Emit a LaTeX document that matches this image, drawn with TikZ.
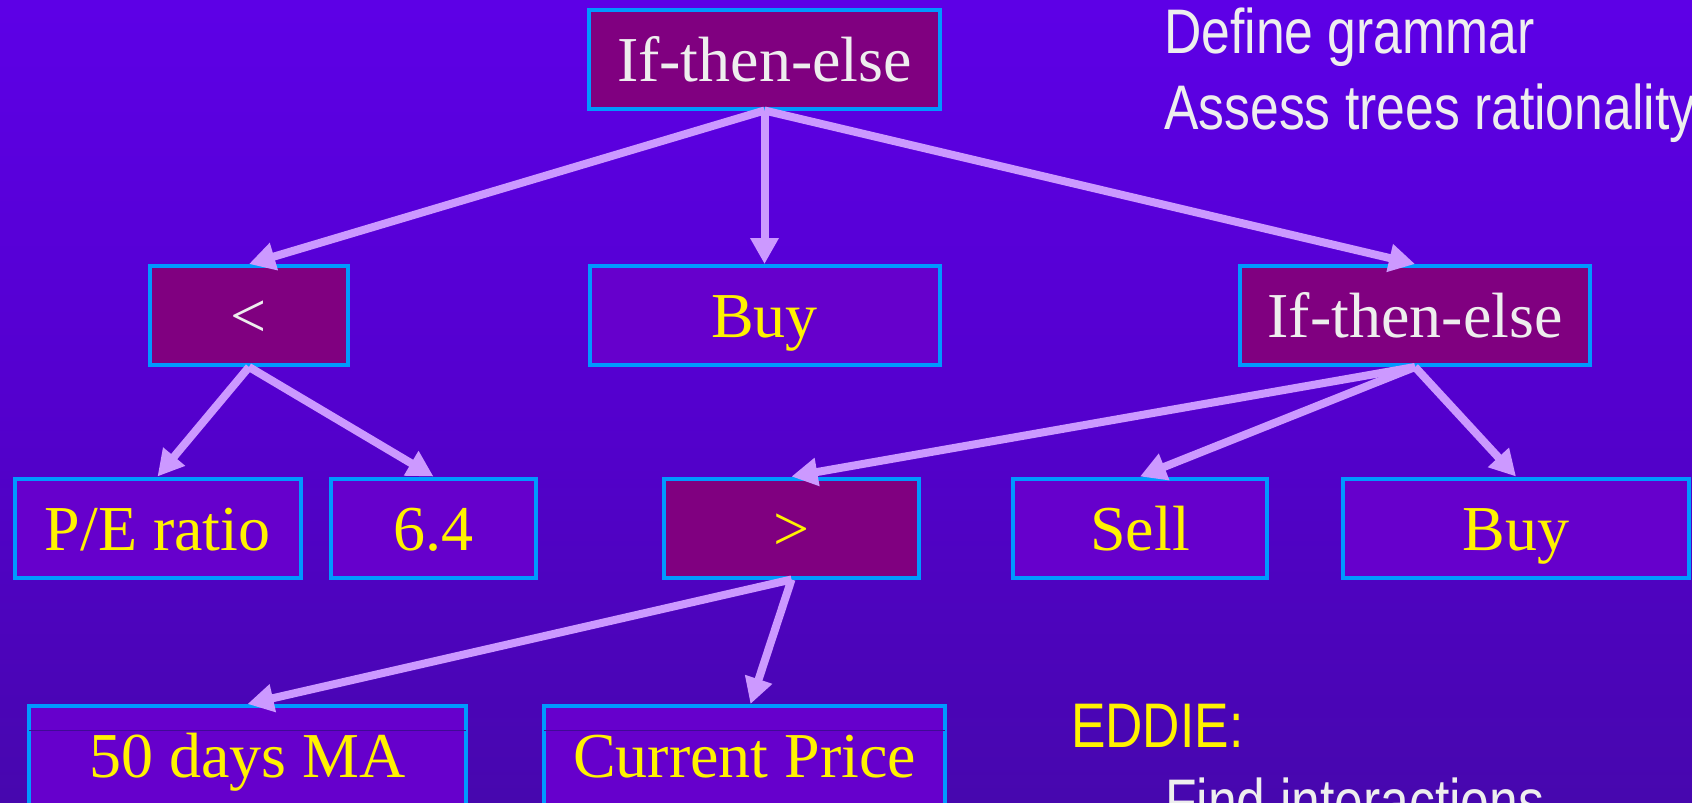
\documentclass[tikz,border=0pt]{standalone}
\usepackage{fontspec}
\setmainfont{Liberation Serif}
\newfontfamily\narrowsans[FakeStretch=0.82]{Liberation Sans}
\usetikzlibrary{shapes,arrows.meta,positioning}

\definecolor{bgtop}{RGB}{102,0,255}
\definecolor{bgmid}{RGB}{84,0,206}
\definecolor{bgbot}{RGB}{58,14,142}
\definecolor{opfill}{RGB}{128,0,128}
\definecolor{leaffill}{RGB}{102,0,204}
\definecolor{edgeblue}{RGB}{0,153,255}
\definecolor{arrowlilac}{RGB}{204,153,255}
\definecolor{offwhite}{RGB}{238,238,238}
\definecolor{seamline}{RGB}{64,10,150}
\pgfdeclareverticalshading{slidebg}{100bp}{color(0bp)=(bgbot); color(50bp)=(bgmid); color(100bp)=(bgtop)}

\begin{document}
\begin{tikzpicture}[x=1pt,y=-1pt]
        % Define block styles
        \tikzstyle{block} = [rectangle, draw=edgeblue, line width=4pt, minimum height=99pt, inner sep=0pt, text height=44pt, text depth=0pt, font=\fontsize{64}{70}\selectfont]
        \tikzstyle{op} = [block, fill=opfill, text=offwhite]
        \tikzstyle{leaf} = [block, fill=leaffill, text=yellow]
        \tikzstyle{line} = [draw=arrowlilac, line width=8pt, -{Triangle[length=26pt,width=27pt]}]
        \tikzstyle{note} = [anchor=base west, inner sep=0pt, text=offwhite, font=\narrowsans\fontsize{63}{76}\selectfont]

        % Background
        \useasboundingbox (0,0) rectangle (1692,803);
        \clip (0,0) rectangle (1692,803);
        \shade [shading=slidebg] (0,0) rectangle (1692,803);

        % Nodes
        \node [op, minimum width=351pt] (root) at (764.5,59) {If-then-else};
        \node [op, minimum width=198pt] (lt) at (249,315.5) {<};
        \node [leaf, below of=root, node distance=256.5pt, minimum width=350pt] (buy) {Buy};
        \node [op, minimum width=350pt] (ite) at (1415,315.5) {If-then-else};
        \node [leaf, minimum width=286pt] (pe) at (157.5,528) {P/E ratio};
        \node [leaf, minimum width=205pt] (num) at (433.5,528) {6.4};
        \node [op, minimum width=255pt, text=yellow] (gt) at (791.5,528) {>};
        \node [leaf, minimum width=254pt] (sell) at (1140,528) {Sell};
        \node [leaf, minimum width=346pt] (buyb) at (1516,528) {Buy};
        \node [leaf, minimum width=437pt] (ma) at (247.5,755.5) {50 days MA};
        \node [leaf, minimum width=401pt] (price) at (744.5,755.5) {Current Price};

        % Seams in the lowest boxes
        \draw [seamline, line width=1pt] ([xshift=2pt,yshift=-26pt]ma.north west) -- ([xshift=-2pt,yshift=-26pt]ma.north east);
        \draw [seamline, line width=1pt] ([xshift=2pt,yshift=-26pt]price.north west) -- ([xshift=-2pt,yshift=-26pt]price.north east);

        % Notes
        \node [note] (grammar) at (1164,53) {Define grammar};
        \node [note] (assess) at (1164,129) {Assess trees rationality};
        \node [note, text=yellow] (eddie) at (1071,747) {EDDIE:};
        \node [note] (interact) at (1165,823) {Find interactions};

        % Arrows
        \path [line] (root.south) -- (lt.north);
        \path [line] (root.south) -- (buy.north);
        \path [line] (root.south) -- (ite.north);
        \path [line] (lt.south) -- (pe.north);
        \path [line] (lt.south) -- (num.north);
        \path [line] (ite.south) -- (gt.north);
        \path [line] (ite.south) -- (sell.north);
        \path [line] (ite.south) -- (buyb.north);
        \path [line] (gt.south) -- (ma.north);
        \path [line] (gt.south) -- ([xshift=6pt]price.north);

\end{tikzpicture}
\end{document}
